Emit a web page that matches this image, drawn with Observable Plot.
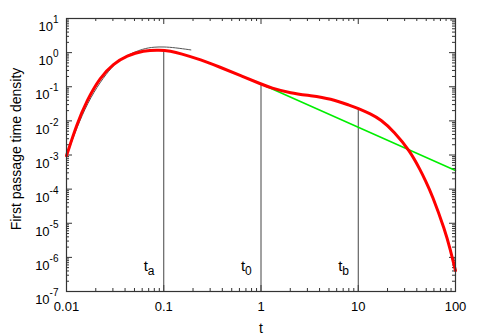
<!DOCTYPE html>
<html>
<head>
<meta charset="utf-8">
<script src="https://cdn.jsdelivr.net/npm/d3@7"></script>
<script src="https://cdn.jsdelivr.net/npm/@observablehq/plot@0.6"></script>
<style>
  html, body { margin: 0; padding: 0; background: #fff; }
  #chart { width: 480px; height: 336px; }
</style>
</head>
<body>
<div id="chart"></div>
<script>
// ---- data ----
const redT = [0.01, 0.0128, 0.0162, 0.0222, 0.0304, 0.0417, 0.0617, 0.0912, 0.1175, 0.148, 0.24, 0.385, 0.617, 1, 1.26, 2.02, 3.24, 5.2, 8.32, 10, 13.4, 17.0, 23.3, 34.0, 43.7, 49, 57.1, 78.3, 88.1, 100];
const redP = [9.5e-4, 8.1e-3, 0.040, 0.19, 0.47, 0.81, 1.15, 1.21, 1.10, 0.95, 0.62, 0.367, 0.214, 0.12, 0.093, 0.065, 0.055, 0.045, 0.028, 0.0234, 0.0160, 0.011, 0.0049, 0.00132, 3.5e-4, 1.8e-4, 7.1e-5, 6.0e-6, 1.74e-6, 4.1e-7];

const approxT = [0.01, 0.0162, 0.0304, 0.0417, 0.0617, 0.08, 0.1, 0.13, 0.19];
const approxP = [9.5e-4, 0.040, 0.48, 0.84, 1.32, 1.46, 1.48, 1.40, 1.20];

const greenT = [1, 100];
const greenP = [0.12, 3.5e-4];

const markT = [0.1, 1, 10];
const markTop = [1.2, 0.12, 0.0234];
const markSub = ["a", "0", "b"];

const xTicks = [0.01, 0.1, 1, 10, 100];
const xTickLabels = ["0.01", "0.1", "1", "10", "100"];
const yExp = [-7, -6, -5, -4, -3, -2, -1, 0, 1];
const yTicks = yExp.map(e => Math.pow(10, e));

const xLabel = "t";
const yLabel = "First passage time density";

// ---- tables ----
const red = redT.map((t, i) => ({t, p: redP[i]}));
const approx = approxT.map((t, i) => ({t, p: approxP[i]}));
const green = greenT.map((t, i) => ({t, p: greenP[i]}));
const markers = markT.map((t, i) => ({t, top: markTop[i], sub: markSub[i]}));

const minorX = [];
for (let k = -2; k < 2; k++) for (let m = 2; m <= 9; m++) minorX.push(m * Math.pow(10, k));
const minorY = [];
for (let k = -7; k < 1; k++) for (let m = 2; m <= 9; m++) minorY.push(m * Math.pow(10, k));

const W = 480, H = 336, mL = 66, mR = 25, mT = 18, mB = 45;
const pW = W - mL - mR, pH = H - mT - mB;
const frameColor = "#333";
const major = 6, minor = 3;

const plot = Plot.plot({
  width: W, height: H,
  marginLeft: mL, marginRight: mR, marginTop: mT, marginBottom: mB,
  style: {fontFamily: "'Liberation Sans', Arial, Helvetica, sans-serif", fontSize: "13px", background: "#fff", color: "#000"},
  x: {type: "log", domain: [0.01, 100]},
  y: {type: "log", domain: [1e-7, 10]},
  marks: [
    Plot.axisX(xTicks, {tickSize: 0, tickPadding: 10, fontSize: 13, tickFormat: d => xTickLabels[xTicks.indexOf(d)], label: null}),
    Plot.axisY(yTicks, {tickSize: 0, tickPadding: 8, fontSize: 13, tickFormat: d => "10^" + yExp[yTicks.indexOf(d)], label: null}),
    // inward ticks on all four sides
    Plot.tickX(xTicks, {x: d => d, insetTop: pH - major, stroke: frameColor}),
    Plot.tickX(minorX, {x: d => d, insetTop: pH - minor, stroke: frameColor}),
    Plot.tickX(xTicks, {x: d => d, insetBottom: pH - major, stroke: frameColor}),
    Plot.tickX(minorX, {x: d => d, insetBottom: pH - minor, stroke: frameColor}),
    Plot.tickY(yTicks, {y: d => d, insetRight: pW - major, stroke: frameColor}),
    Plot.tickY(minorY, {y: d => d, insetRight: pW - minor, stroke: frameColor}),
    Plot.tickY(yTicks, {y: d => d, insetLeft: pW - major, stroke: frameColor}),
    Plot.tickY(minorY, {y: d => d, insetLeft: pW - minor, stroke: frameColor}),
    // marker verticals
    Plot.ruleX(markers, {x: "t", y1: () => 1e-7, y2: "top", stroke: "#444", strokeWidth: 1}),
    // short-time approximation
    Plot.line(approx, {x: "t", y: "p", stroke: "#555", strokeWidth: 1, curve: "basis"}),
    // power-law tail
    Plot.line(green, {x: "t", y: "p", stroke: "#00ee00", strokeWidth: 1.5}),
    // density
    Plot.line(red, {x: "t", y: "p", stroke: "#ff0000", strokeWidth: 3, curve: "basis"}),
    // marker labels
    Plot.text(markers, {x: "t", text: () => "t", frameAnchor: "bottom", dx: -20, dy: -25, textAnchor: "start", lineAnchor: "middle", fontSize: 15}),
    Plot.text(markers, {x: "t", text: "sub", frameAnchor: "bottom", dx: -16, dy: -20, textAnchor: "start", lineAnchor: "middle", fontSize: 12}),
    // axis titles
    Plot.text([xLabel], {text: d => d, frameAnchor: "bottom", dy: 37, lineAnchor: "middle", fontSize: 14}),
    Plot.text([yLabel], {text: d => d, frameAnchor: "left", dx: -50, dy: -6, rotate: -90, textAnchor: "middle", lineAnchor: "middle", fontSize: 14}),
    Plot.frame({stroke: frameColor, strokeWidth: 1.2})
  ]
});

// superscript exponents on the y tick labels
const NS = "http://www.w3.org/2000/svg";
plot.querySelectorAll('g[aria-label="y-axis tick label"] text').forEach(el => {
  const [b, e] = el.textContent.split("^");
  el.textContent = "";
  el.setAttribute("dy", "8.5");
  const t1 = document.createElementNS(NS, "tspan");
  t1.textContent = b;
  const t2 = document.createElementNS(NS, "tspan");
  t2.setAttribute("dy", "-8");
  t2.setAttribute("font-size", "10");
  t2.textContent = e;
  el.append(t1, t2);
});

document.getElementById("chart").append(plot);
</script>
</body>
</html>
